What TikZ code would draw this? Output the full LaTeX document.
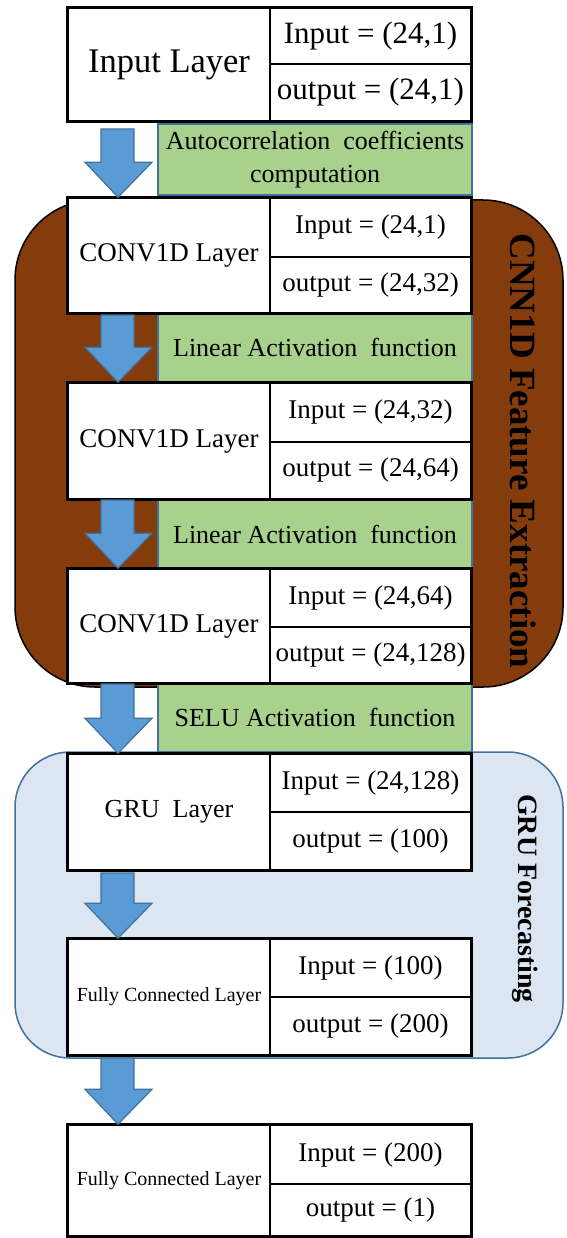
\documentclass[tikz,border=0pt]{standalone}
\usepackage{fontspec}
\setmainfont{Liberation Serif}
\usetikzlibrary{calc}
\definecolor{brownreg}{HTML}{843C0C}
\definecolor{greenfill}{HTML}{A9D18E}
\definecolor{edgeblue}{HTML}{41719C}
\definecolor{arrowfill}{HTML}{5B9BD5}
\definecolor{bluereg}{HTML}{DCE6F2}
\newcommand\szA{\fontsize{31}{36}\selectfont}
\newcommand\szE{\fontsize{34.5}{38}\selectfont}
\newcommand\szB{\fontsize{27}{32}\selectfont}
\newcommand\szC{\fontsize{26}{33}\selectfont}
\newcommand\szD{\fontsize{20}{24}\selectfont}
\tikzset{
  leftcell/.style={draw=black, line width=1.5, fill=white, minimum width=202, inner sep=0pt},
  rightcell/.style={draw=black, line width=1.5, fill=white, minimum width=201, inner sep=0pt},
  outerbox/.style={draw=black, line width=3},
  greenbox/.style={draw=edgeblue, line width=1.2, fill=greenfill, minimum width=314, inner sep=0pt, align=center, font=\szC},
  arrowst/.style={draw=edgeblue, line width=1.2, fill=arrowfill},
  cnnregion/.style={draw=black, line width=1.5, fill=brownreg, rounded corners=80, minimum width=548, minimum height=487, inner sep=0pt},
  gruregion/.style={draw=edgeblue, line width=1.5, fill=bluereg, rounded corners=55, minimum width=548, minimum height=306, inner sep=0pt},
  sidelabel/.style={rotate=-90, inner sep=0pt}
}
\newcommand\mylayer[7]{%
  \node[leftcell, minimum height={#4-#2}] (#1) at (169,{(#2+#4)/2}) {#5};
  \node[rightcell, minimum height={#3-#2}] (#1i) at (370.5,{(#2+#3)/2}) {#6};
  \node[rightcell, minimum height={#4-#3}] (#1o) at (370.5,{(#3+#4)/2}) {#7};
  \draw[outerbox] (#1.north west) rectangle (#1o.south east);
}
\newcommand\barrow[2]{%
  \draw[arrowst] let \p1=(#1), \p2=(#2) in
    (\x2-17pt,\y1) -- (\x2+16pt,\y1) -- (\x2+16pt,\y2+35pt) -- (\x2+34pt,\y2+35pt)
    -- (\x2,\y2) -- (\x2-33pt,\y2+35pt) -- (\x2-17pt,\y2+35pt) -- cycle;
}
\begin{document}
\begin{tikzpicture}[x=1pt,y=-1pt]
\useasboundingbox (0,0) rectangle (566,1238);
% regions
\node[cnnregion] (cnn) at (289,443.5) {};
\node[gruregion] (gru) at (289,905) {};
\node[sidelabel, font=\bfseries\fontsize{37}{40}\selectfont] (cnnlbl) at (523,451) {CNN1D Feature Extraction};
\node[sidelabel, font=\bfseries\fontsize{28}{32}\selectfont] (grulbl) at (525,898.5) {GRU Forecasting};
% arrow start points
\coordinate (a1) at (118,129);
\coordinate (a2) at (118,315);
\coordinate (a3) at (118,500);
\coordinate (a4) at (118,684);
\coordinate (a5) at (118,873);
\coordinate (a6) at (118,1058);
% green boxes
\node[greenbox, minimum height=71] (g1) at (315,159.5) {Autocorrelation\ \ coefficients\\computation};
\node[greenbox, minimum height=70] (g2) at (315,347) {Linear Activation\ \ function};
\node[greenbox, minimum height=70] (g3) at (315,534) {Linear Activation\ \ function};
\node[greenbox, minimum height=70] (g4) at (315,717) {SELU Activation\ \ function};
% layers
\mylayer{n1}{8}{64}{121}{\szE Input Layer}{\szA Input = (24,1)}{\szA output = (24,1)}
\mylayer{n2}{198}{257}{313}{\szB CONV1D Layer}{\szB Input = (24,1)}{\szB output = (24,32)}
\mylayer{n3}{383}{442}{499}{\szB CONV1D Layer}{\szB Input = (24,32)}{\szB output = (24,64)}
\mylayer{n4}{569}{627}{683}{\szB CONV1D Layer}{\szB Input = (24,64)}{\szB output = (24,128)}
\mylayer{n5}{754}{812}{870}{\szC GRU\ \ Layer}{\szB Input = (24,128)}{\szB output = (100)}
\mylayer{n6}{939}{997}{1055}{\szD Fully Connected Layer}{\szB Input = (100)}{\szB output = (200)}
\mylayer{n7}{1125}{1184}{1236}{\szD Fully Connected Layer}{\szB Input = (200)}{\szB output = (1)}
% block arrows
\barrow{a1}{a1 |- n2.north}
\barrow{a2}{a2 |- n3.north}
\barrow{a3}{a3 |- n4.north}
\barrow{a4}{a4 |- n5.north}
\barrow{a5}{a5 |- n6.north}
\barrow{a6}{a6 |- n7.north}
\end{tikzpicture}
\end{document}
